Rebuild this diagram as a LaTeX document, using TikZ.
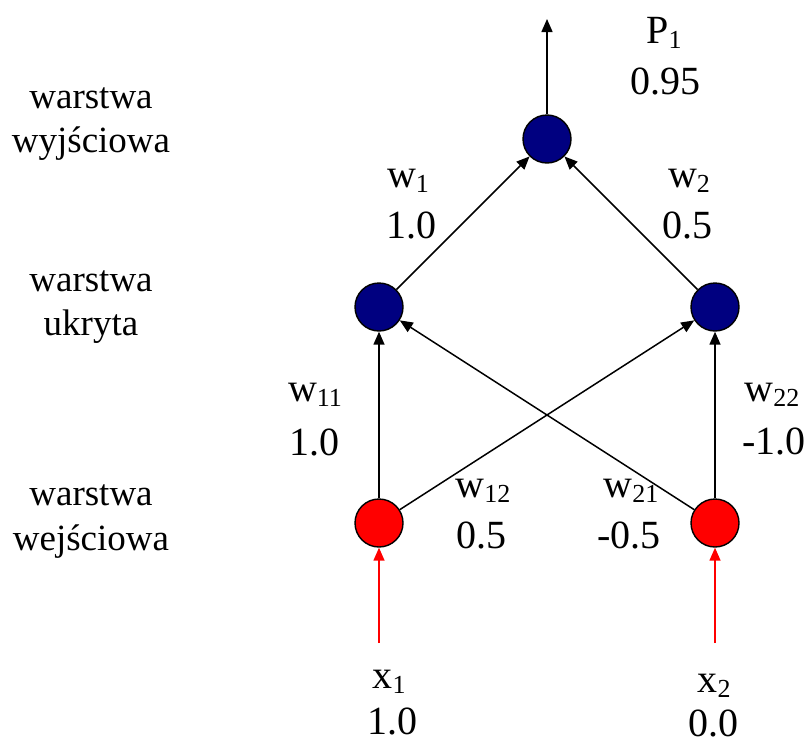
\documentclass[tikz,border=0pt]{standalone}
\usepackage{fontspec}
\setmainfont{Liberation Serif}
\usetikzlibrary{arrows.meta}
\definecolor{navyblue}{RGB}{0,0,128}
\newcommand\lsub[1]{\raisebox{-5pt}{\fontsize{26}{26}\selectfont #1}}
\begin{document}
\begin{tikzpicture}[x=1pt,y=-1pt,
 neuron/.style={circle,draw=black,line width=1.4pt,minimum size=48pt,inner sep=0pt},
 hid/.style={neuron,fill=navyblue},
 inp/.style={neuron,fill=red},
 lbl/.style={anchor=base,inner sep=0pt,font=\fontsize{40}{48}\selectfont},
 layer/.style={anchor=base,inner sep=0pt,font=\fontsize{37}{44}\selectfont},
 conn/.style={line width=1.5pt,-{Triangle[length=13pt,width=11pt]}},
 inconn/.style={conn,red}]
\useasboundingbox (0,0) rectangle (810,744);
% neurons
\node[hid] (out) at (547,139) {};
\node[hid] (h1) at (379,307) {};
\node[hid] (h2) at (715,307) {};
\node[inp] (i1) at (379,523) {};
\node[inp] (i2) at (715,523) {};
\coordinate (top) at (547,19);
\coordinate (s1) at (379,643);
\coordinate (s2) at (715,643);
% connections
\draw[conn] (out) -- (top);
\draw[conn] (h1) -- (out);
\draw[conn] (h2) -- (out);
\draw[conn] (i1) -- (h1);
\draw[conn] (i2) -- (h2);
\draw[conn] (i1) -- (h2);
\draw[conn] (i2) -- (h1);
\draw[inconn] (s1) -- (i1);
\draw[inconn] (s2) -- (i2);
% layer labels
\node[layer] (l1a) at (91,108) {warstwa};
\node[layer] (l1b) at (91,152) {wyjściowa};
\node[layer] (l2a) at (91,291) {warstwa};
\node[layer] (l2b) at (91,335) {ukryta};
\node[layer] (l3a) at (91,505) {warstwa};
\node[layer] (l3b) at (91,550) {wejściowa};
% value labels
\node[lbl] (p1) at (664,43) {P\lsub{1}};
\node[lbl] (p1v) at (665,94) {0.95};
\node[lbl] (w1) at (408,187) {w\lsub{1}};
\node[lbl] (w1v) at (411,238) {1.0};
\node[lbl] (w2) at (689,187) {w\lsub{2}};
\node[lbl] (w2v) at (687,238) {0.5};
\node[lbl] (w11) at (315,401) {w\lsub{11}};
\node[lbl] (w11v) at (314,455) {1.0};
\node[lbl] (w22) at (772,401) {w\lsub{22}};
\node[lbl] (w22v) at (774,454) {-1.0};
\node[lbl] (w12) at (483,497) {w\lsub{12}};
\node[lbl] (w12v) at (481,548) {0.5};
\node[lbl] (w21) at (631,497) {w\lsub{21}};
\node[lbl] (w21v) at (629,548) {-0.5};
\node[lbl] (x1) at (389,688) {x\lsub{1}};
\node[lbl] (x1v) at (392,734) {1.0};
\node[lbl] (x2) at (714,692) {x\lsub{2}};
\node[lbl] (x2v) at (713,736) {0.0};
\end{tikzpicture}
\end{document}
